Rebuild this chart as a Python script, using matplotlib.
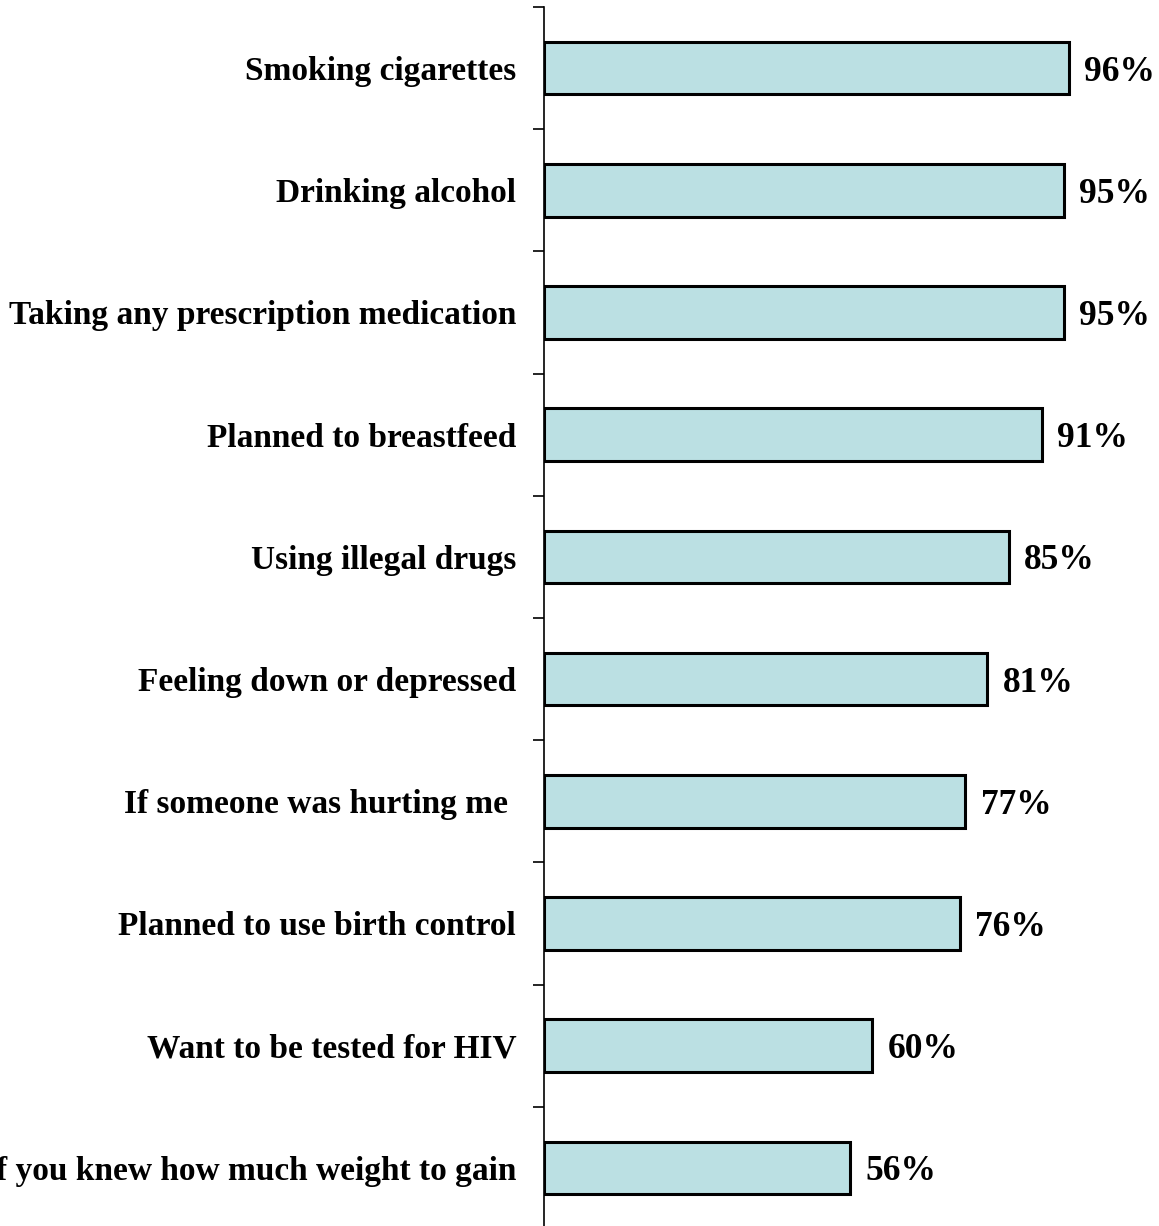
import numpy as np
import matplotlib.pyplot as plt

plt.rcParams['font.family'] = ['Liberation Serif', 'DejaVu Serif']
plt.rcParams['font.weight'] = 'bold'

categories = [
    "Smoking cigarettes",
    "Drinking alcohol",
    "Taking any prescription medication",
    "Planned to breastfeed",
    "Using illegal drugs",
    "Feeling down or depressed",
    "If someone was hurting me ",
    "Planned to use birth control",
    "Want to be tested for HIV",
    "If you knew how much weight to gain",
]
values = [96, 95, 95, 91, 85, 81, 77, 76, 60, 56]

fig = plt.figure(figsize=(11.59, 12.26), dpi=100)
ax = fig.add_axes([544 / 1159, -3 / 1226, 547 / 1159, 1222 / 1226])

y = np.arange(len(categories))
ax.barh(y, values, height=0.43, color='#BBE0E3', edgecolor='black', linewidth=2.2)

for yi, v in zip(y, values):
    ax.text(v + 2.8, yi, f"{v}%", va='center_baseline', ha='left',
            fontsize=25.5, fontweight='bold')

ax.set_xlim(0, 100)
ax.set_ylim(len(categories) - 0.5, -0.5)

# boundary ticks between categories, labels at bar centres
ax.set_yticks(np.arange(len(categories) + 1) - 0.5)
ax.set_yticklabels([])
ax.tick_params(axis='y', which='major', direction='out', length=8, width=1.2)
ax.set_yticks(y, minor=True)
ax.set_yticklabels(categories, minor=True, fontsize=24, fontweight='bold',
                   va='center_baseline')
ax.tick_params(axis='y', which='minor', length=0, pad=20)

ax.set_xticks([])
for side in ['top', 'right', 'bottom']:
    ax.spines[side].set_visible(False)
ax.spines['left'].set_linewidth(1.2)

fig.savefig("out.png", dpi=100)
